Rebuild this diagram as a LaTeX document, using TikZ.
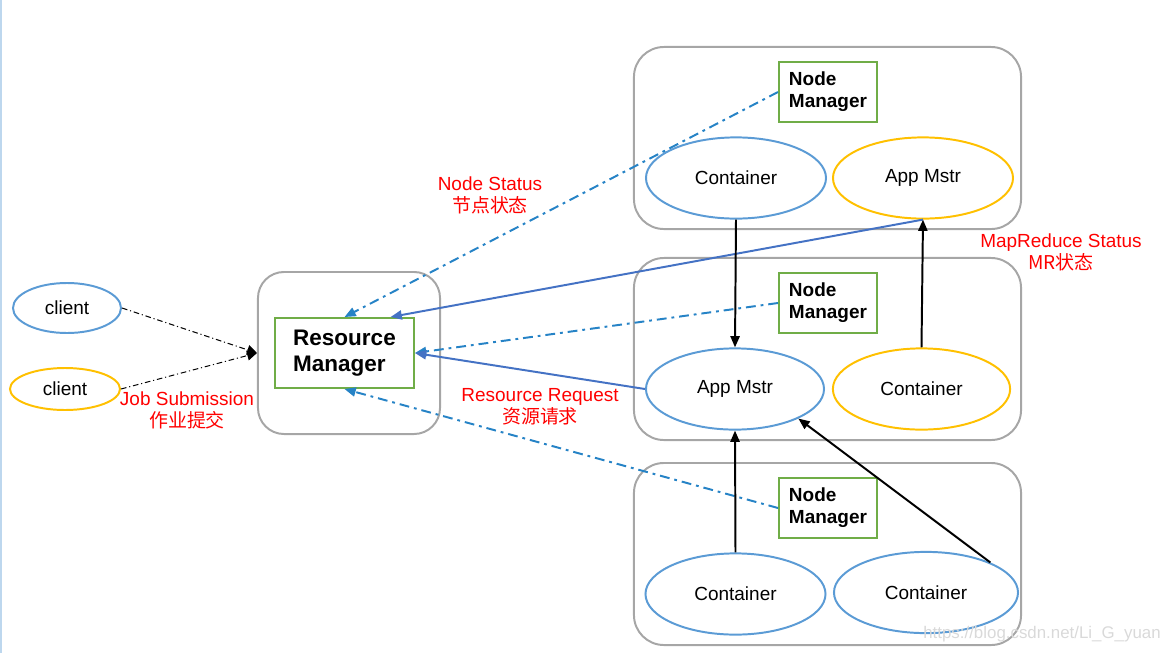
\documentclass[tikz,border=0pt]{standalone}
\usepackage{fontspec}
\setmainfont{Liberation Sans}
\newfontfamily\cjk{Noto Sans CJK SC}
\usetikzlibrary{shapes,arrows,arrows.meta}
\definecolor{cblue}{HTML}{5B9BD5}
\definecolor{cgold}{HTML}{FFC000}
\definecolor{cgreen}{HTML}{70AD47}
\definecolor{cgray}{HTML}{A6A6A6}
\definecolor{cdash}{HTML}{2683C6}
\definecolor{carrow}{HTML}{4472C4}
\tikzstyle{host} = [rectangle, draw=cgray, line width=1.4pt, rounded corners=0.75cm]
\tikzstyle{mgr} = [rectangle, draw=cgreen, line width=1.4pt, align=left,
    font=\bfseries\fontsize{13.5}{15.6}\selectfont, minimum width=2.45cm, minimum height=1.5cm]
\tikzstyle{task} = [ellipse, draw=cblue, line width=1.4pt, inner sep=0pt,
    minimum width=4.5cm, minimum height=2.03cm, font=\fontsize{13.5}{16}\selectfont]
\tikzstyle{client} = [ellipse, draw=cblue, line width=1.4pt, inner sep=0pt,
    minimum width=2.7cm, minimum height=1.25cm, font=\fontsize{13.5}{16}\selectfont]
\tikzstyle{note} = [text=red, align=center, font=\fontsize{13.5}{15.6}\selectfont]
\tikzstyle{line} = [draw, line width=1.4pt, -{Triangle[length=8pt,width=6.5pt]}]
\tikzstyle{status} = [draw=cdash, line width=1.4pt, -{Triangle[length=8pt,width=6.5pt,fill=cdash]},
    dash pattern=on 7pt off 3.5pt on 2pt off 3.5pt]
\tikzstyle{submit} = [draw, line width=0.7pt, -{Triangle[length=7pt,width=7pt]},
    dash pattern=on 4pt off 2pt on 0.8pt off 2pt]

\begin{document}
\begin{tikzpicture}[x=0.025cm, y=-0.025cm]
        \useasboundingbox (0,0) rectangle (1166,653);
        \draw [cblue!40, line width=1.4pt] (1,0) -- (1,653);

        % Place nodes
        \node [host, minimum width=4.55cm, minimum height=4.05cm, rounded corners=0.65cm] (rmbox) at (349,353) {};
        \node [host, minimum width=9.675cm, minimum height=4.55cm] (host1) at (827.5,138) {};
        \node [host, minimum width=9.675cm, minimum height=4.55cm] (host2) at (827.5,349) {};
        \node [host, minimum width=9.675cm, minimum height=4.55cm] (host3) at (827.5,554) {};

        \node [client] (client1) at (67,308) {client};
        \node [client, draw=cgold, minimum width=2.75cm, minimum height=1.05cm] (client2) at (65,389) {client};

        \node [mgr, minimum width=3.475cm, minimum height=1.75cm,
            font=\bfseries\fontsize{16}{19}\selectfont] (rm) at (344.5,353) {Resource\\Manager};

        \node [mgr] (nm1) at (828,92) {Node\\Manager};
        \node [mgr] (nm2) at (828,303) {Node\\Manager};
        \node [mgr] (nm3) at (828,508) {Node\\Manager};

        \node [task] (cont1) at (736,178) {Container};
        \node [task, draw=cgold] (am1) at (923,178) {App Mstr};
        \node [task, minimum width=4.45cm] (am2) at (735,389) {App Mstr};
        \node [task, draw=cgold, minimum width=4.43cm] (cont2) at (921.5,389) {Container};
        \node [task] (cont3) at (735.5,594) {Container};
        \node [task, minimum width=4.6cm] (cont4) at (926,592.5) {Container};

        \node [note] (jobtxt) at (187,410) {Job Submission\\{\cjk 作业提交}};
        \node [note] (nodetxt) at (490,195) {Node Status\\{\cjk 节点状态}};
        \node [note] (reqtxt) at (540,407) {Resource Request\\{\cjk 资源请求}};
        \node [note] (mrtxt) at (1061,252) {MapReduce Status\\{\cjk MR状态}};

        \node [text=black!15, font=\fontsize{12}{14}\selectfont] (mark) at (1042,634) {https://blog.csdn.net/Li\_G\_yuan};

        % Draw edges
        \path [submit] (client1.east) -- (rmbox.west);
        \path [submit] (client2.east) -- (rmbox.west);

        \path [status] (nm1.west) -- (rm.north);
        \path [status] (nm2.west) -- (rm.east);
        \path [status] (nm3.west) -- (rm.south);

        \path [line, draw=carrow] (am1.south) -- (rm.38);
        \path [line, draw=carrow] (am2.west) -- (rm.east);

        \path [line] (cont1.south) -- (am2.north);
        \path [line] (cont2.north) -- (am1.south);
        \path [line] (cont3.north) -- (am2.south);
        \path [line] (cont4.25) -- (am2.-25);
\end{tikzpicture}
\end{document}
